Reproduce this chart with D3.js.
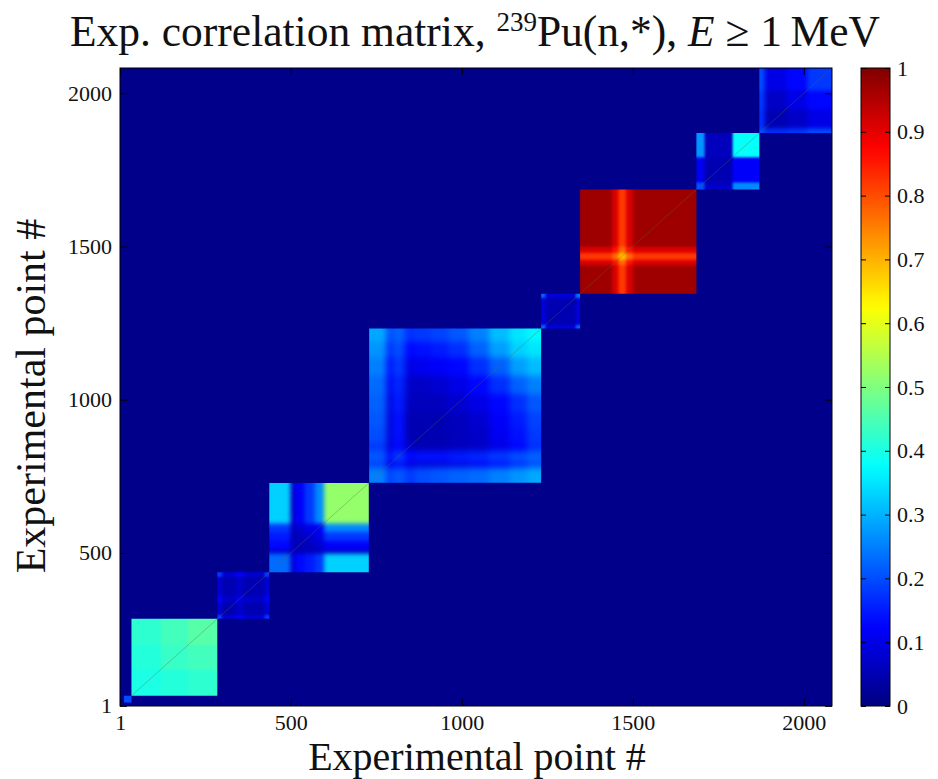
<!DOCTYPE html>
<html>
<head>
<meta charset="utf-8">
<script src="https://cdn.jsdelivr.net/npm/d3@7"></script>
<style>
body { margin: 0; background: #fff; }
text { font-family: "Liberation Serif", "DejaVu Serif", serif; fill: #111; }
</style>
</head>
<body>
<svg id="chart" width="938" height="779"></svg>
<script>
// number of experimental points on each axis
var nPoints = 2082;
// correlation outside the blocks
var offBlockValue = 0.01;

// each block: segment edges (point index) and the correlation of every
// segment pair, rows = y segment (low index first), columns = x segment
var edges1 = [12, 34];
var vals1 = [[0.20]];

var edges2 = [34, 120, 200, 285];
var vals2 = [
	[0.40, 0.41, 0.42],
	[0.41, 0.43, 0.44],
	[0.42, 0.44, 0.46]
];

var edges3 = [285, 299, 340, 362, 423, 437];
var vals3 = [
	[0.18, 0.08, 0.12, 0.08, 0.18],
	[0.08, 0.05, 0.07, 0.05, 0.08],
	[0.12, 0.07, 0.10, 0.07, 0.12],
	[0.08, 0.05, 0.07, 0.05, 0.08],
	[0.18, 0.08, 0.12, 0.08, 0.18]
];

var edges4 = [437, 499, 511, 540, 570, 597, 728];
var vals4 = [
	[0.23, 0.07, 0.13, 0.15, 0.18, 0.33],
	[0.07, 0.05, 0.05, 0.05, 0.06, 0.06],
	[0.13, 0.05, 0.06, 0.06, 0.08, 0.12],
	[0.15, 0.05, 0.06, 0.08, 0.10, 0.18],
	[0.18, 0.06, 0.08, 0.10, 0.12, 0.26],
	[0.33, 0.06, 0.12, 0.18, 0.26, 0.52]
];

var edges5 = [729, 780, 796, 834, 862, 910, 960, 1020, 1080, 1140, 1190, 1232];
var vals5 = [
	[0.25, 0.18, 0.21, 0.18, 0.20, 0.21, 0.22, 0.23, 0.25, 0.27, 0.29],
	[0.18, 0.08, 0.12, 0.08, 0.08, 0.08, 0.09, 0.11, 0.13, 0.16, 0.19],
	[0.21, 0.12, 0.18, 0.13, 0.14, 0.14, 0.15, 0.16, 0.18, 0.20, 0.22],
	[0.18, 0.08, 0.13, 0.06, 0.05, 0.05, 0.06, 0.07, 0.10, 0.13, 0.17],
	[0.20, 0.08, 0.14, 0.05, 0.05, 0.05, 0.06, 0.07, 0.11, 0.14, 0.18],
	[0.21, 0.08, 0.14, 0.05, 0.05, 0.05, 0.06, 0.08, 0.12, 0.15, 0.19],
	[0.22, 0.09, 0.15, 0.06, 0.06, 0.06, 0.08, 0.10, 0.13, 0.17, 0.21],
	[0.23, 0.11, 0.16, 0.07, 0.07, 0.08, 0.10, 0.13, 0.17, 0.22, 0.25],
	[0.25, 0.13, 0.18, 0.10, 0.11, 0.12, 0.13, 0.17, 0.22, 0.28, 0.31],
	[0.27, 0.16, 0.20, 0.13, 0.14, 0.15, 0.17, 0.22, 0.28, 0.33, 0.35],
	[0.29, 0.19, 0.22, 0.17, 0.18, 0.19, 0.21, 0.25, 0.31, 0.35, 0.37]
];

var edges6 = [1232, 1245, 1333, 1346];
var vals6 = [
	[0.22, 0.09, 0.22],
	[0.09, 0.05, 0.09],
	[0.22, 0.09, 0.24]
];

var edges7 = [1346, 1440, 1458, 1480, 1500, 1686];
var vals7 = [
	[0.97, 0.91, 0.82, 0.91, 0.97],
	[0.91, 0.86, 0.77, 0.86, 0.91],
	[0.82, 0.77, 0.69, 0.77, 0.82],
	[0.91, 0.86, 0.77, 0.86, 0.91],
	[0.97, 0.91, 0.82, 0.91, 0.97]
];

var edges8 = [1686, 1710, 1792, 1870];
var vals8 = [
	[0.20, 0.07, 0.26],
	[0.11, 0.05, 0.12],
	[0.27, 0.06, 0.38]
];

var edges9 = [1870, 1886, 1950, 2010, 2082];
var vals9 = [
	[0.20, 0.17, 0.18, 0.20],
	[0.17, 0.05, 0.07, 0.10],
	[0.18, 0.07, 0.10, 0.13],
	[0.20, 0.10, 0.13, 0.18]
];

var axisTicks = [1, 500, 1000, 1500, 2000];
var colorTicks = [0, 0.1, 0.2, 0.3, 0.4, 0.5, 0.6, 0.7, 0.8, 0.9, 1];

var blocks = [
	{edges: edges1, vals: vals1}, {edges: edges2, vals: vals2}, {edges: edges3, vals: vals3},
	{edges: edges4, vals: vals4}, {edges: edges5, vals: vals5}, {edges: edges6, vals: vals6},
	{edges: edges7, vals: vals7}, {edges: edges8, vals: vals8}, {edges: edges9, vals: vals9}
];
// how soft the inside of each block is drawn (px blur)
var softness = [0.5, 1, 0.8, 2, 3, 0.8, 1.8, 1.2, 2.2];

// matlab style jet colormap
function jet(t) {
	function c(v) { return Math.max(0, Math.min(1, v)); }
	var r = c(1.5 - Math.abs(4 * t - 3));
	var g = c(1.5 - Math.abs(4 * t - 2));
	var b = c(1.5 - Math.abs(4 * t - 1));
	return d3.rgb(r * 255, g * 255, b * 255).toString();
}
var color = d3.scaleSequential(jet).domain([0, 1]);

var plot = {left: 120, right: 832, top: 68, bottom: 706};
var x = d3.scaleLinear().domain([0.5, nPoints + 0.5]).range([plot.left, plot.right]);
var y = d3.scaleLinear().domain([0.5, nPoints + 0.5]).range([plot.bottom, plot.top]);

var svg = d3.select("#chart");
var defs = svg.append("defs");

defs.append("clipPath").attr("id", "plotClip")
	.append("rect")
	.attr("x", plot.left).attr("y", plot.top)
	.attr("width", plot.right - plot.left).attr("height", plot.bottom - plot.top);

defs.append("filter").attr("id", "soft")
	.attr("x", "-5%").attr("y", "-5%").attr("width", "110%").attr("height", "110%")
	.attr("color-interpolation-filters", "sRGB")
	.append("feGaussianBlur").attr("stdDeviation", 0.7);

var heat = svg.append("g").attr("clip-path", "url(#plotClip)")
	.append("g").attr("filter", "url(#soft)");

heat.append("rect")
	.attr("x", plot.left - 10).attr("y", plot.top - 10)
	.attr("width", plot.right - plot.left + 20).attr("height", plot.bottom - plot.top + 20)
	.attr("fill", color(offBlockValue));

blocks.forEach(function(b, k) {
	var lo = b.edges[0], hi = b.edges[b.edges.length - 1];

	// blur inside the block, then bring alpha back to 1 so the edges stay sharp
	var f = defs.append("filter").attr("id", "blk" + k)
		.attr("x", "-10%").attr("y", "-10%").attr("width", "120%").attr("height", "120%")
		.attr("color-interpolation-filters", "sRGB");
	f.append("feGaussianBlur").attr("in", "SourceGraphic").attr("stdDeviation", softness[k]).attr("result", "b");
	f.append("feComponentTransfer").attr("in", "b")
		.append("feFuncA").attr("type", "linear").attr("slope", 60).attr("intercept", 0);

	defs.append("clipPath").attr("id", "blkClip" + k)
		.append("rect")
		.attr("x", x(lo)).attr("y", y(hi))
		.attr("width", x(hi) - x(lo)).attr("height", y(lo) - y(hi));

	var cells = [];
	b.vals.forEach(function(row, r) {
		row.forEach(function(v, c) {
			cells.push({x0: b.edges[c], x1: b.edges[c + 1], y0: b.edges[r], y1: b.edges[r + 1], v: v});
		});
	});

	heat.append("g").attr("clip-path", "url(#blkClip" + k + ")")
		.append("g").attr("filter", "url(#blk" + k + ")")
		.selectAll("rect")
		.data(cells)
		.enter()
		.append("rect")
		.attr("x", function(d) { return x(d.x0); })
		.attr("y", function(d) { return y(d.y1); })
		.attr("width", function(d) { return x(d.x1) - x(d.x0) + 0.3; })
		.attr("height", function(d) { return y(d.y0) - y(d.y1) + 0.3; })
		.attr("fill", function(d) { return color(d.v); });
});

// diagonal (self correlation)
heat.selectAll("line.diag")
	.data(blocks.slice(1))
	.enter()
	.append("line")
	.attr("class", "diag")
	.attr("x1", function(d) { return x(d.edges[0]); })
	.attr("y1", function(d) { return y(d.edges[0]); })
	.attr("x2", function(d) { return x(d.edges[d.edges.length - 1]); })
	.attr("y2", function(d) { return y(d.edges[d.edges.length - 1]); })
	.attr("stroke", "#5a6a40")
	.attr("stroke-opacity", 0.35)
	.attr("stroke-width", 1);

// axes, ticks inward on all four sides
var fmt = d3.format("d");
var tickLen = 7;

var gx = svg.append("g").attr("transform", "translate(0," + plot.bottom + ")")
	.call(d3.axisBottom(x).tickValues(axisTicks).tickFormat(fmt).tickSizeInner(-tickLen).tickSizeOuter(0).tickPadding(8));
var gy = svg.append("g").attr("transform", "translate(" + plot.left + ",0)")
	.call(d3.axisLeft(y).tickValues(axisTicks).tickFormat(fmt).tickSizeInner(-tickLen).tickSizeOuter(0).tickPadding(8));
var gt = svg.append("g").attr("transform", "translate(0," + plot.top + ")")
	.call(d3.axisTop(x).tickValues(axisTicks).tickFormat("").tickSizeInner(-tickLen).tickSizeOuter(0));
var gr = svg.append("g").attr("transform", "translate(" + plot.right + ",0)")
	.call(d3.axisRight(y).tickValues(axisTicks).tickFormat("").tickSizeInner(-tickLen).tickSizeOuter(0));

[gx, gy, gt, gr].forEach(function(g) {
	g.select(".domain").remove();
	g.selectAll("line").attr("stroke", "#000");
	g.selectAll("text").attr("font-size", 22).attr("font-family", "Liberation Serif, serif").attr("fill", "#111");
});

svg.append("rect")
	.attr("x", plot.left).attr("y", plot.top)
	.attr("width", plot.right - plot.left).attr("height", plot.bottom - plot.top)
	.attr("fill", "none").attr("stroke", "#000").attr("stroke-width", 1);

// colorbar
var bar = {left: 861, right: 890};
var cy = d3.scaleLinear().domain([0, 1]).range([plot.bottom, plot.top]);

var grad = defs.append("linearGradient").attr("id", "jetGrad")
	.attr("x1", 0).attr("y1", 1).attr("x2", 0).attr("y2", 0);
grad.selectAll("stop")
	.data(d3.range(0, 1.0001, 0.02))
	.enter()
	.append("stop")
	.attr("offset", function(d) { return d; })
	.attr("stop-color", function(d) { return color(d); });

svg.append("rect")
	.attr("x", bar.left).attr("y", plot.top)
	.attr("width", bar.right - bar.left).attr("height", plot.bottom - plot.top)
	.attr("fill", "url(#jetGrad)")
	.attr("stroke", "#000").attr("stroke-width", 1);

var gc = svg.append("g").attr("transform", "translate(" + bar.right + ",0)")
	.call(d3.axisRight(cy).tickValues(colorTicks).tickFormat(d3.format("~g")).tickSizeInner(-5).tickSizeOuter(0).tickPadding(7));
var gcl = svg.append("g").attr("transform", "translate(" + bar.left + ",0)")
	.call(d3.axisLeft(cy).tickValues(colorTicks).tickFormat("").tickSizeInner(-5).tickSizeOuter(0));
[gc, gcl].forEach(function(g) {
	g.select(".domain").remove();
	g.selectAll("line").attr("stroke", "#000");
	g.selectAll("text").attr("font-size", 22).attr("font-family", "Liberation Serif, serif").attr("fill", "#111");
});

// titles
var title = svg.append("text")
	.attr("x", 475).attr("y", 46)
	.attr("text-anchor", "middle")
	.attr("font-size", 43.5);
title.append("tspan").text("Exp. correlation matrix, ");
title.append("tspan").attr("font-size", 27).attr("dy", -15).text("239");
title.append("tspan").attr("dy", 15).text("Pu(n,*), ");
title.append("tspan").attr("font-style", "italic").text("E");
title.append("tspan").text(" \u2265 1\u2009MeV");

svg.append("text")
	.attr("x", 477).attr("y", 770)
	.attr("text-anchor", "middle")
	.attr("font-size", 40)
	.text("Experimental point #");

svg.append("text")
	.attr("transform", "translate(45,396) rotate(-90)")
	.attr("text-anchor", "middle")
	.attr("font-size", 42)
	.text("Experimental point #");
</script>
</body>
</html>
